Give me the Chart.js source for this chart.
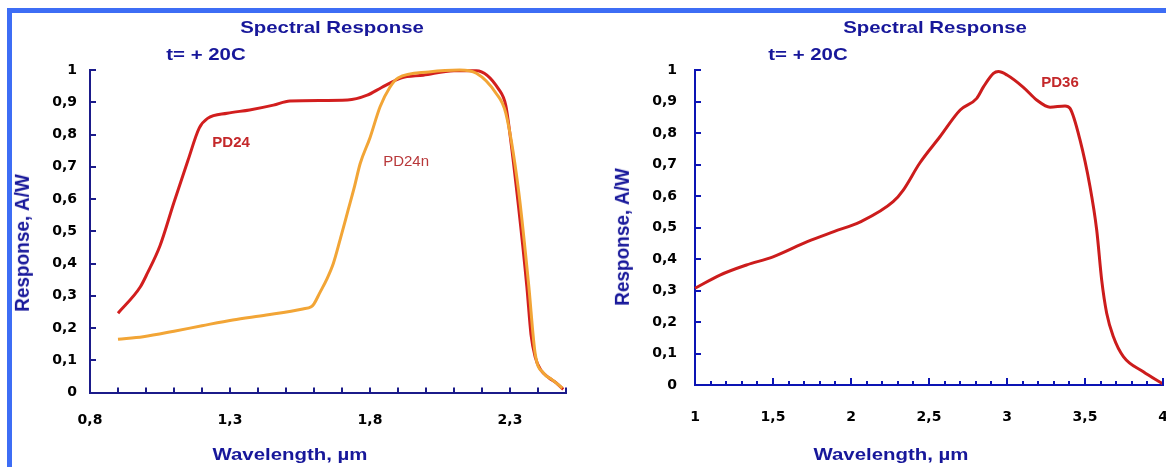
<!DOCTYPE html>
<html>
<head>
<meta charset="utf-8">
<script src="https://cdn.jsdelivr.net/npm/chart.js@4.4.1/dist/chart.umd.min.js"></script>
<style>
  body { margin: 0; background: #fff; }
  #page { position: relative; width: 1166px; height: 467px; overflow: hidden; background: #fff; }
  .frame { position: absolute; left: 7px; top: 8px; right: 0; bottom: 0; border-top: 5px solid #3d6df5; border-left: 5px solid #3d6df5; }
  canvas { position: absolute; top: 0; }
  .txt { position: absolute; white-space: nowrap; font-family: "Liberation Sans", Arial, sans-serif; font-weight: bold; color: #17179a; font-size: 17px; transform: translate(-50%, -50%) scaleX(1.2); }
  .vert { font-size: 19px; transform: translate(-50%, -50%) rotate(-90deg) scaleY(1.1); }
</style>
</head>
<body>
<div id="page">
  <div class="frame"></div>
  <canvas id="leftChart" width="583" height="467" style="left:0"></canvas>
  <canvas id="rightChart" width="583" height="467" style="left:583px"></canvas>

  <div class="txt" style="left:332px; top:28px">Spectral Response</div>
  <div class="txt" style="left:206px; top:55px">t= + 20C</div>
  <div class="txt" style="left:290px; top:455px">Wavelength, µm</div>
  <div class="txt vert" style="left:22px; top:243px">Response, A/W</div>

  <div class="txt" style="left:935px; top:28px">Spectral Response</div>
  <div class="txt" style="left:808px; top:55px">t= + 20C</div>
  <div class="txt" style="left:891px; top:455px">Wavelength, µm</div>
  <div class="txt vert" style="left:622px; top:237px">Response, A/W</div>
</div>

<script>
// tick labels
const yTickLabels = ['0', '0,1', '0,2', '0,3', '0,4', '0,5', '0,6', '0,7', '0,8', '0,9', '1'];
const leftXTickValues = [0.8, 1.3, 1.8, 2.3];
const leftXTickLabels = ['0,8', '1,3', '1,8', '2,3'];
const rightXTickValues = [1, 1.5, 2, 2.5, 3, 3.5, 4];
const rightXTickLabels = ['1', '1,5', '2', '2,5', '3', '3,5', '4'];

// PD24 (left chart, red)
const pd24Wavelength = [0.90, 0.98, 1.005, 1.05, 1.10, 1.15, 1.19, 1.22, 1.29, 1.37, 1.455, 1.514, 1.72, 1.79, 1.84, 1.91, 1.99, 2.10, 2.18, 2.26, 2.285, 2.30, 2.33, 2.36, 2.375, 2.39, 2.41, 2.44, 2.465, 2.49];
const pd24Response = [0.246, 0.328, 0.37, 0.455, 0.59, 0.72, 0.82, 0.85, 0.866, 0.876, 0.891, 0.904, 0.907, 0.922, 0.945, 0.975, 0.984, 0.998, 0.998, 0.94, 0.89, 0.80, 0.58, 0.33, 0.18, 0.11, 0.07, 0.045, 0.03, 0.01];

// PD24n (left chart, orange)
const pd24nWavelength = [0.90, 0.99, 1.10, 1.20, 1.31, 1.43, 1.56, 1.59, 1.60, 1.62, 1.645, 1.669, 1.693, 1.722, 1.745, 1.765, 1.80, 1.836, 1.87, 1.90, 2.01, 2.12, 2.18, 2.25, 2.285, 2.33, 2.366, 2.39, 2.42, 2.45, 2.487];
const pd24nResponse = [0.165, 0.173, 0.19, 0.207, 0.225, 0.24, 0.259, 0.266, 0.275, 0.308, 0.35, 0.40, 0.473, 0.566, 0.64, 0.71, 0.79, 0.886, 0.945, 0.975, 0.994, 1.0, 0.99, 0.928, 0.866, 0.63, 0.34, 0.12, 0.06, 0.04, 0.014];

// PD36 (right chart, red)
const pd36Wavelength = [1.00, 1.16, 1.33, 1.50, 1.72, 1.89, 2.06, 2.27, 2.335, 2.44, 2.57, 2.70, 2.806, 2.85, 2.913, 2.945, 3.00, 3.105, 3.19, 3.276, 3.372, 3.404, 3.468, 3.532, 3.575, 3.607, 3.639, 3.682, 3.746, 3.874, 4.00];
const pd36Response = [0.307, 0.349, 0.381, 0.407, 0.455, 0.487, 0.518, 0.582, 0.619, 0.704, 0.788, 0.873, 0.91, 0.947, 0.989, 0.995, 0.984, 0.945, 0.905, 0.882, 0.886, 0.878, 0.778, 0.63, 0.492, 0.333, 0.228, 0.153, 0.09, 0.042, 0.003];

const toPoints = (xs, ys) => xs.map((x, i) => ({ x: x, y: ys[i] }));

function labelFor(values, labels) {
    return value => {
        const i = values.findIndex(v => Math.abs(v - value) < 1e-6);
        return i < 0 ? '' : labels[i];
    };
}

// short tick marks drawn inside the plot, like the original
function innerTicks(color, xLen, xMajorLen, majorStep, yLen) {
    return {
        id: 'innerTicks',
        afterDraw(chart) {
            const { ctx, chartArea, scales } = chart;
            ctx.save();
            ctx.strokeStyle = color;
            ctx.lineWidth = 2;
            scales.x.ticks.forEach(t => {
                const px = Math.round(scales.x.getPixelForValue(t.value));
                const steps = (t.value - scales.x.min) / majorStep;
                const l = majorStep && Math.abs(steps - Math.round(steps)) < 1e-6 ? xMajorLen : xLen;
                ctx.beginPath();
                ctx.moveTo(px, chartArea.bottom);
                ctx.lineTo(px, chartArea.bottom - l);
                ctx.stroke();
            });
            scales.y.ticks.forEach(t => {
                const py = Math.round(scales.y.getPixelForValue(t.value));
                ctx.beginPath();
                ctx.moveTo(chartArea.left, py);
                ctx.lineTo(chartArea.left + yLen, py);
                ctx.stroke();
            });
            ctx.restore();
        }
    };
}

// curve names placed at data coordinates
function curveLabels(items) {
    return {
        id: 'curveLabels',
        afterDatasetsDraw(chart) {
            const { ctx, scales } = chart;
            items.forEach(it => {
                ctx.save();
                ctx.translate(scales.x.getPixelForValue(it.x), scales.y.getPixelForValue(it.y));
                ctx.font = it.font;
                ctx.fillStyle = it.color;
                ctx.textAlign = 'center';
                ctx.textBaseline = 'middle';
                ctx.fillText(it.text, 0, 0);
                ctx.restore();
            });
        }
    };
}

const tickFont = { family: 'DejaVu Sans', weight: 'bold', size: 14 };

function chartOptions(cfg) {
    return {
        responsive: false,
        animation: false,
        events: [],
        layout: { autoPadding: false, padding: { left: 0, top: cfg.top, right: cfg.right, bottom: 0 } },
        plugins: { legend: { display: false }, tooltip: { enabled: false } },
        scales: {
            x: {
                type: 'linear',
                min: cfg.xMin,
                max: cfg.xMax,
                // fixed axis box, no extra room for the end labels
                afterFit: s => { s.height = cfg.xHeight; s.paddingLeft = 0; s.paddingRight = 0; },
                border: { color: cfg.axisColor, width: 2 },
                grid: { display: false, drawTicks: false },
                ticks: {
                    stepSize: 0.1,
                    autoSkip: false,
                    maxRotation: 0,
                    padding: cfg.xPad,
                    color: '#000',
                    font: tickFont,
                    callback: labelFor(cfg.xValues, cfg.xLabels)
                }
            },
            y: {
                type: 'linear',
                min: 0,
                max: 1,
                afterFit: s => { s.width = cfg.yWidth; s.paddingTop = 0; s.paddingBottom = 0; },
                border: { color: cfg.axisColor, width: 2 },
                grid: { display: false, drawTicks: false },
                ticks: {
                    stepSize: 0.1,
                    padding: cfg.yPad,
                    color: '#000',
                    font: tickFont,
                    callback: value => yTickLabels[Math.round(value * 10)]
                }
            }
        }
    };
}

function lineSet(label, xs, ys, color, order) {
    return {
        label: label,
        data: toPoints(xs, ys),
        borderColor: color,
        borderWidth: 3,
        pointRadius: 0,
        cubicInterpolationMode: 'monotone',
        fill: false,
        clip: false,
        order: order
    };
}

new Chart(document.getElementById('leftChart'), {
    type: 'line',
    data: {
        datasets: [
            lineSet('PD24', pd24Wavelength, pd24Response, '#d21e1e', 1),
            lineSet('PD24n', pd24nWavelength, pd24nResponse, '#f2a536', 0)
        ]
    },
    options: chartOptions({
        top: 70, right: 17, xHeight: 74.5, yWidth: 90,
        xMin: 0.8, xMax: 2.5, xValues: leftXTickValues, xLabels: leftXTickLabels,
        axisColor: '#1b1b8a', xPad: 19, yPad: 13
    }),
    plugins: [
        innerTicks('#1b1b8a', 5, 5, 0, 6),
        curveLabels([
            { text: 'PD24', x: 1.304, y: 0.774, font: 'bold 15px "Liberation Sans", Arial', color: '#c4282a' },
            { text: 'PD24n', x: 1.929, y: 0.715, font: '15px "Liberation Sans", Arial', color: '#b8383a' }
        ])
    ]
});

new Chart(document.getElementById('rightChart'), {
    type: 'line',
    data: {
        datasets: [
            lineSet('PD36', pd36Wavelength, pd36Response, '#cc1c1c', 0)
        ]
    },
    options: chartOptions({
        top: 70, right: 3, xHeight: 82, yWidth: 112,
        xMin: 1, xMax: 4, xValues: rightXTickValues, xLabels: rightXTickLabels,
        axisColor: '#0c14b4', xPad: 24, yPad: 18
    }),
    plugins: [
        innerTicks('#0c14b4', 4, 7, 0.5, 6),
        curveLabels([
            { text: 'PD36', x: 3.34, y: 0.959, font: 'bold 15px "Liberation Sans", Arial', color: '#c4282a' }
        ])
    ]
});
</script>
</body>
</html>
